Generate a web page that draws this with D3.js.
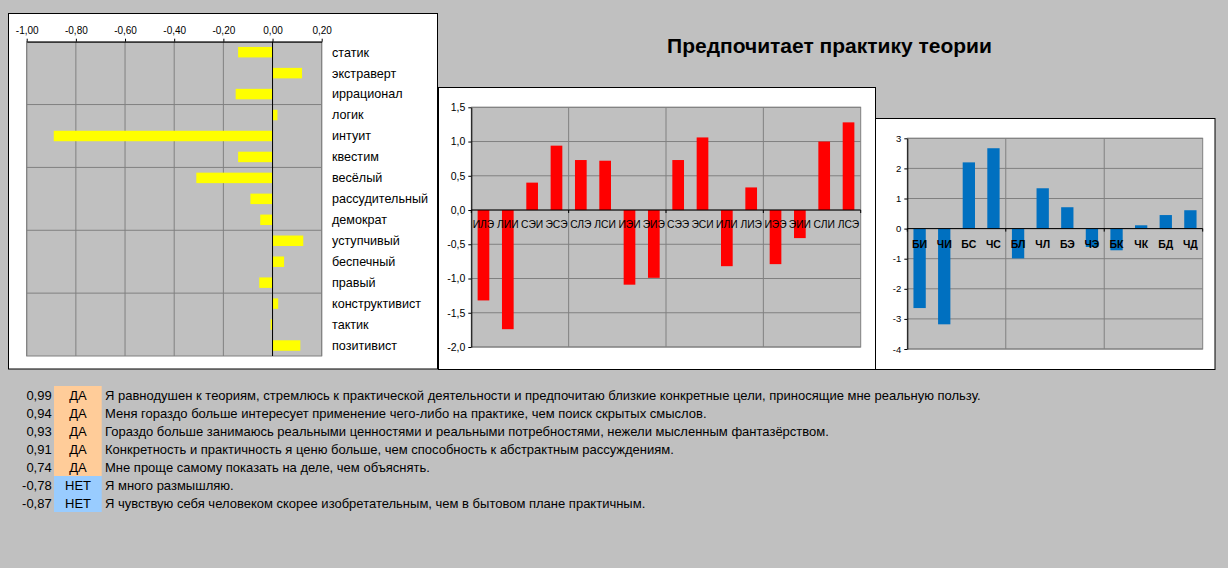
<!DOCTYPE html>
<html><head><meta charset="utf-8">
<script src="https://cdn.jsdelivr.net/npm/d3@7"></script>
<style>
html,body{margin:0;padding:0;background:#C0C0C0;}
svg{display:block;font-family:"Liberation Sans",Arial,sans-serif;}
</style></head>
<body>
<svg id="c" width="1228" height="568"></svg>
<script>
// ---- data ----
const traitCats = ["статик","экстраверт","иррационал","логик","интуит","квестим","весёлый","рассудительный","демократ","уступчивый","беспечный","правый","конструктивист","тактик","позитивист"];
const traitVals = [-0.14,0.12,-0.15,0.02,-0.89,-0.14,-0.31,-0.09,-0.05,0.125,0.047,-0.054,0.023,-0.008,0.113];
const traitTicks = [-1,-0.8,-0.6,-0.4,-0.2,0,0.2];

const typeCats = ["ИЛЭ","ЛИИ","СЭИ","ЭСЭ","СЛЭ","ЛСИ","ИЭИ","ЭИЭ","СЭЭ","ЭСИ","ИЛИ","ЛИЭ","ИЭЭ","ЭИИ","СЛИ","ЛСЭ"];
const typeVals = [-1.32,-1.74,0.40,0.94,0.73,0.72,-1.09,-0.99,0.73,1.06,-0.82,0.33,-0.79,-0.41,1.00,1.28];
const typeTicks = [-2,-1.5,-1,-0.5,0,0.5,1,1.5];

const funcCats = ["БИ","ЧИ","БС","ЧС","БЛ","ЧЛ","БЭ","ЧЭ","БК","ЧК","БД","ЧД"];
const funcVals = [-2.64,-3.18,2.20,2.67,-0.99,1.34,0.71,-0.61,-0.72,0.11,0.45,0.61];
const funcTicks = [-4,-3,-2,-1,0,1,2,3];

const title = "Предпочитает практику теории";

const scores = ["0,99","0,94","0,93","0,91","0,74","-0,78","-0,87"];
const answers = ["ДА","ДА","ДА","ДА","ДА","НЕТ","НЕТ"];
const statements = [
 "Я равнодушен к теориям, стремлюсь к практической деятельности и предпочитаю близкие конкретные цели, приносящие мне реальную пользу.",
 "Меня гораздо больше интересует применение чего-либо на практике, чем поиск скрытых смыслов.",
 "Гораздо больше занимаюсь реальными ценностями и реальными потребностями, нежели мысленным фантазёрством.",
 "Конкретность и практичность я ценю больше, чем способность к абстрактным рассуждениям.",
 "Мне проще самому показать на деле, чем объяснять.",
 "Я много размышляю.",
 "Я чувствую себя человеком скорее изобретательным, чем в бытовом плане практичным."
];

// ---- drawing ----
const svg = d3.select("#c");
const loc = d3.formatLocale({decimal:",",thousands:" ",grouping:[3],currency:["",""],minus:"-"});
const f2 = loc.format(".2f"), f1 = loc.format(".1f"), f0 = loc.format("d");
const GRID="#808080", PLOT="#C0C0C0";

function box(x,y,w,h){
  svg.append("rect").attr("x",x).attr("y",y).attr("width",w).attr("height",h)
    .attr("fill","#fff").attr("stroke","#000").attr("stroke-width",1);
}

// ===== Left horizontal bar chart =====
(function(){
  box(8.5,13.5,429,355.5);
  const x0=26.7,x1=321.7,y0=41.7,y1=356;
  const x=d3.scaleLinear().domain([-1,0.2]).range([x0,x1]);
  const y=d3.scaleBand().domain(traitCats).range([y0,y1]).paddingInner(0.5).paddingOuter(0.25);
  const g=svg.append("g");
  g.append("rect").attr("x",x0).attr("y",y0).attr("width",x1-x0).attr("height",y1-y0).attr("fill",PLOT).attr("stroke",GRID);
  g.selectAll(".vg").data(traitTicks).join("line").attr("x1",d=>x(d)).attr("x2",d=>x(d)).attr("y1",y0).attr("y2",y1).attr("stroke",GRID);
  const step=y.step();
  const hIdx=[3,6,9,12];
  g.selectAll(".hg").data(hIdx).join("line").attr("x1",x0).attr("x2",x1)
    .attr("y1",d=>y0+d*step).attr("y2",d=>y0+d*step).attr("stroke",GRID);
  g.selectAll(".bar").data(traitVals).join("rect")
    .attr("x",d=>x(Math.min(0,d))).attr("width",d=>Math.abs(x(d)-x(0)))
    .attr("y",(d,i)=>y(traitCats[i])).attr("height",y.bandwidth()).attr("fill","#FFFF00");
  g.append("line").attr("x1",x(0)).attr("x2",x(0)).attr("y1",y0).attr("y2",y1).attr("stroke","#000");
  const ax=g.append("g").attr("transform",`translate(0,${y0})`)
    .call(d3.axisTop(x).tickValues(traitTicks).tickFormat(f2).tickSize(3).tickSizeOuter(0));
  ax.select(".domain").attr("stroke","#000");
  ax.selectAll("text").attr("font-size",10).attr("fill","#000").attr("dy","-0.15em").attr("font-family","Liberation Sans, Arial");
  g.selectAll(".cl").data(traitCats).join("text").attr("x",332).attr("y",d=>y(d)+y.bandwidth()/2)
    .attr("dy","0.35em").attr("font-size",12.6).text(d=>d);
})();

// generic vertical bar chart
function vchart(o){
  box(o.bx,o.by,o.bw,o.bh);
  const {x0,x1,y0,y1}=o;
  const y=d3.scaleLinear().domain(o.domain).range([y1,y0]);
  const x=d3.scaleBand().domain(o.cats).range([x0,x1]).paddingInner(o.pad).paddingOuter(o.pad/2);
  const g=svg.append("g");
  g.append("rect").attr("x",x0).attr("y",y0).attr("width",x1-x0).attr("height",y1-y0).attr("fill",PLOT).attr("stroke",GRID);
  g.selectAll(".hg").data(o.ticks).join("line").attr("x1",x0).attr("x2",x1).attr("y1",d=>y(d)).attr("y2",d=>y(d)).attr("stroke",GRID);
  const step=x.step();
  const vIdx=d3.range(4,o.cats.length,4);
  g.selectAll(".vg").data(vIdx).join("line").attr("x1",d=>x0+d*step).attr("x2",d=>x0+d*step).attr("y1",y0).attr("y2",y1).attr("stroke",GRID);
  g.selectAll(".bar").data(o.vals).join("rect")
    .attr("x",(d,i)=>x(o.cats[i])).attr("width",x.bandwidth())
    .attr("y",d=>y(Math.max(0,d))).attr("height",d=>Math.abs(y(d)-y(0))).attr("fill",o.color);
  // zero axis with ticks every 4 categories
  g.append("line").attr("x1",x0).attr("x2",x1).attr("y1",y(0)).attr("y2",y(0)).attr("stroke","#000");
  g.selectAll(".zt").data(d3.range(0,o.cats.length+1,4)).join("line")
    .attr("x1",d=>x0+d*step).attr("x2",d=>x0+d*step).attr("y1",y(0)).attr("y2",y(0)+3).attr("stroke","#000");
  const ay=g.append("g").attr("transform",`translate(${x0},0)`)
    .call(d3.axisLeft(y).tickValues(o.ticks).tickFormat(o.fmt).tickSize(3).tickSizeOuter(0));
  ay.select(".domain").attr("stroke","#000");
  ay.selectAll("text").attr("font-size",o.yfs).attr("fill","#000").attr("font-family","Liberation Sans, Arial");
  g.selectAll(".cl").data(o.cats).join("text").attr("x",d=>x(d)+x.bandwidth()/2).attr("y",o.ly)
    .attr("dy","0.35em").attr("text-anchor","middle").attr("font-size",o.lfs).attr("font-weight",o.lfw).text(d=>d);
}

vchart({bx:438.5,by:87.5,bw:437,bh:282,x0:471.3,x1:860.7,y0:107.3,y1:347,
  domain:[-2,1.5],ticks:typeTicks,cats:typeCats,vals:typeVals,color:"#FF0000",pad:0.52,
  fmt:f1,ly:224,lfs:10.3,lfw:"normal",yfs:10.5});

vchart({bx:875.5,by:118.5,bw:339.5,bh:251,x0:907.3,x1:1202.7,y0:138.3,y1:349,
  domain:[-4,3],ticks:funcTicks,cats:funcCats,vals:funcVals,color:"#0070C0",pad:0.5,
  fmt:f0,ly:244,lfs:10.5,lfw:"bold",yfs:9.5});

// title
svg.append("text").attr("x",829.5).attr("y",53).attr("text-anchor","middle")
  .attr("font-size",21).attr("font-weight","bold").text(title);

// ===== bottom table =====
const rowTop=386,rowH=18;
const tg=svg.append("g");
scores.forEach((s,i)=>{
  const t=rowTop+i*rowH;
  tg.append("rect").attr("x",54).attr("y",t).attr("width",47.7).attr("height",rowH)
    .attr("fill",answers[i]==="ДА"?"#FFCC99":"#99CCFF");
  tg.append("text").attr("x",51.7).attr("y",t+13.5).attr("text-anchor","end").attr("font-size",13).text(s);
  tg.append("text").attr("x",78).attr("y",t+13.5).attr("text-anchor","middle").attr("font-size",13).text(answers[i]);
  tg.append("text").attr("x",105).attr("y",t+13.5).attr("font-size",13).text(statements[i]);
});
</script>
</body></html>
